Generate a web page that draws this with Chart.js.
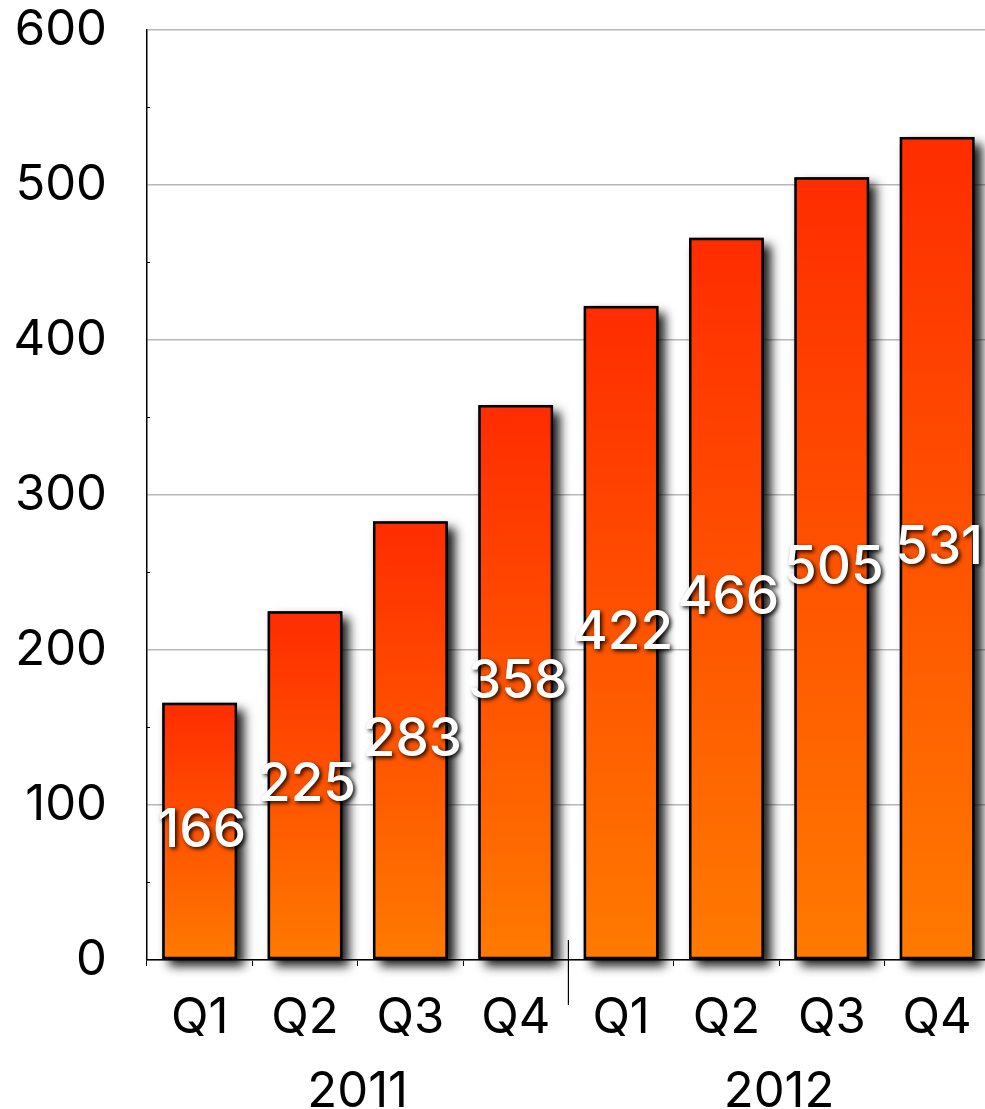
<!DOCTYPE html>
<html>
<head>
<meta charset="utf-8">
<script src="https://cdn.jsdelivr.net/npm/chart.js@4/dist/chart.umd.min.js"></script>
<style>
    html, body { margin: 0; padding: 0; background: #fff; overflow: hidden; }
    #wrap { position: relative; width: 995px; height: 1109px; }
</style>
</head>
<body>
<div id="wrap"><canvas id="chart"></canvas></div>
<script>
// Quarterly values, 2011 Q1 .. 2012 Q4
const quarters = ['Q1', 'Q2', 'Q3', 'Q4', 'Q1', 'Q2', 'Q3', 'Q4'];
const years = ['2011', '2012'];
const values = [166, 225, 283, 358, 422, 466, 505, 531];

const FONT = "Inter, 'Noto Sans', sans-serif";
const FONT_SIZE = 49;

// Vertical gradient per bar: red at the top, orange at the base
function barGradient(ctx) {
    const chart = ctx.chart;
    const y = chart.scales.y;
    if (!y || ctx.dataIndex === undefined) return '#ff5000';
    const top = y.getPixelForValue(values[ctx.dataIndex]);
    const bottom = y.getPixelForValue(0);
    if (!isFinite(top) || !isFinite(bottom) || top === bottom) return '#ff5000';
    const g = chart.ctx.createLinearGradient(0, top, 0, bottom);
    g.addColorStop(0, '#ff2c00');
    g.addColorStop(1, '#ff7a00');
    return g;
}

// Drop shadow behind the bars (bar element clips itself, so paint the shadow first)
const barShadow = {
    id: 'barShadow',
    beforeDatasetsDraw(chart) {
        const c = chart.ctx;
        const meta = chart.getDatasetMeta(0);
        c.save();
        c.shadowColor = 'rgba(0,0,0,0.9)';
        c.shadowBlur = 10;
        c.shadowOffsetX = 7;
        c.shadowOffsetY = 7;
        c.fillStyle = '#000';
        meta.data.forEach(bar => {
            const w = bar.width;
            c.fillRect(bar.x - w / 2, bar.y, w, bar.base - bar.y);
        });
        c.restore();
    }
};

// White value labels at the middle of each bar
const valueLabels = {
    id: 'valueLabels',
    afterDatasetsDraw(chart) {
        const c = chart.ctx;
        const meta = chart.getDatasetMeta(0);
        c.save();
        c.font = `500 53px ${FONT}`;
        c.fillStyle = '#fff';
        c.textAlign = 'center';
        c.textBaseline = 'middle';
        c.shadowColor = 'rgba(0,0,0,0.9)';
        c.shadowBlur = 4;
        c.shadowOffsetX = 2;
        c.shadowOffsetY = 2;
        meta.data.forEach((bar, i) => {
            c.fillText(String(values[i]), bar.x + 2, (bar.y + bar.base) / 2);
        });
        c.restore();
    }
};

// Vertical divider between the two years, plus small minor ticks on the y axis
const axisExtras = {
    id: 'axisExtras',
    afterDraw(chart) {
        const x = chart.scales.x;
        const y = chart.scales.y;
        const px = (x.getPixelForValue(3) + x.getPixelForValue(4)) / 2;
        const c = chart.ctx;
        c.save();
        c.strokeStyle = '#000';
        c.lineWidth = 1.2;
        c.beginPath();
        c.moveTo(px, x.top - 20);
        c.lineTo(px, x.top + 45);
        for (let v = 50; v < 600; v += 100) {
            const py = y.getPixelForValue(v);
            c.moveTo(y.right, py);
            c.lineTo(y.right + 3, py);
        }
        c.stroke();
        c.restore();
    }
};

new Chart(document.getElementById('chart'), {
    type: 'bar',
    data: {
        labels: quarters,
        datasets: [{
            data: values,
            backgroundColor: barGradient,
            borderColor: '#000',
            borderWidth: 2.5,
            borderSkipped: false,
            categoryPercentage: 1,
            barPercentage: 0.71
        }]
    },
    options: {
        responsive: true,
        maintainAspectRatio: false,
        animation: false,
        layout: { padding: { top: 0, right: 5, left: 0, bottom: 0 } },
        plugins: {
            legend: { display: false },
            tooltip: { enabled: false }
        },
        scales: {
            x: {
                position: 'bottom',
                border: { display: true, color: '#000', width: 1.5 },
                grid: {
                    offset: true,
                    drawOnChartArea: false,
                    drawTicks: true,
                    tickLength: 6,
                    color: '#000',
                    tickColor: '#000'
                },
                ticks: {
                    color: '#000',
                    padding: 23,
                    maxRotation: 0,
                    font: { family: FONT, size: FONT_SIZE }
                },
                afterFit(scale) { scale.height = 88; }
            },
            year: {
                type: 'category',
                position: 'bottom',
                labels: years,
                offset: true,
                border: { display: false },
                grid: { display: false, drawTicks: false },
                ticks: {
                    color: '#000',
                    padding: 15,
                    maxRotation: 0,
                    font: { family: FONT, size: FONT_SIZE }
                },
                afterFit(scale) { scale.height = 61; }
            },
            y: {
                min: 0,
                max: 600,
                border: { display: true, color: '#000', width: 1.5 },
                grid: {
                    color: '#b8b8b8',
                    lineWidth: 1.5,
                    drawTicks: false
                },
                ticks: {
                    stepSize: 100,
                    color: '#000',
                    padding: 40,
                    font: { family: FONT, size: FONT_SIZE }
                },
                afterFit(scale) {
                    scale.width = 147;
                    scale.paddingTop = 30;
                    scale.paddingBottom = 0;
                }
            }
        }
    },
    plugins: [barShadow, valueLabels, axisExtras]
});
</script>
</body>
</html>
